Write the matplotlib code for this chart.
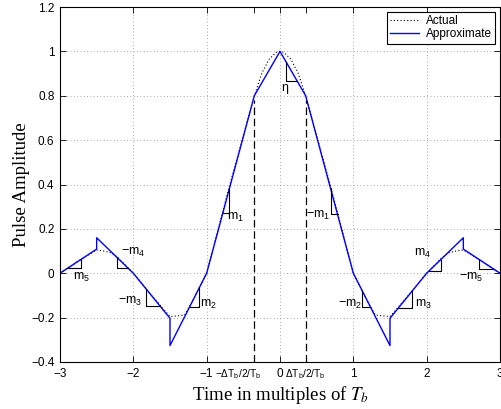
import matplotlib
matplotlib.use("Agg")
import matplotlib.pyplot as plt
import matplotlib.transforms as mtransforms
import numpy as np

# ---- data -------------------------------------------------------------
approx_t = [-3.0, -2.5, -2.5, -2.0, -1.5, -1.5, -1.0, -0.35, 0.0,
            0.35, 1.0, 1.5, 1.5, 2.0, 2.5, 2.5, 3.0]
approx_y = [0.0, 0.109, 0.16, 0.0, -0.203, -0.326, 0.0, 0.80, 1.0,
            0.80, 0.0, -0.326, -0.203, 0.0, 0.16, 0.109, 0.0]

actual_t = [-3.0, -2.75, -2.5, -2.4, -2.3, -2.2, -2.1, -2.0, -1.75, -1.5,
            -1.4, -1.3, -1.2, -1.0, -0.7, -0.5, -0.35, -0.25, -0.15, -0.05,
            0.0, 0.05, 0.15, 0.25, 0.35, 0.5, 0.7, 1.0, 1.2, 1.3, 1.4, 1.5,
            1.75, 2.0, 2.1, 2.2, 2.3, 2.4, 2.5, 2.75, 3.0]
actual_y = [0.0, 0.055, 0.105, 0.100, 0.092, 0.068, 0.034, 0.0, -0.10, -0.195,
            -0.192, -0.188, -0.13, 0.0, 0.38, 0.62, 0.80, 0.90, 0.964, 0.996,
            1.0, 0.996, 0.964, 0.90, 0.80, 0.62, 0.38, 0.0, -0.13, -0.188, -0.192, -0.195,
            -0.10, 0.0, 0.034, 0.068, 0.092, 0.100, 0.105, 0.055, 0.0]

half_width = 0.35   # Delta T_b / 2 / T_b

# slope triangles: (x of vertical leg, y where leg meets curve, y of horizontal leg, x end of horizontal leg)
tri_xv = [-2.714, -2.218, -1.827, -1.10, -0.692, 0.082, 0.69, 1.12, 1.805, 2.19, 2.72]
tri_yt = [0.062, 0.075, -0.069, -0.065, 0.379, 0.953, 0.38, -0.078, -0.078, 0.061, 0.061]
tri_yh = [0.022, 0.022, -0.146, -0.151, 0.27, 0.868, 0.265, -0.151, -0.158, 0.012, 0.018]
tri_xh = [-2.90, -2.068, -1.635, -1.232, -0.78, 0.231, 0.785, 1.232, 1.605, 2.03, 2.92]

lab_text = [r"m$_5$", r"$-$m$_4$", r"$-$m$_3$", r"m$_2$", r"m$_1$", "\u03b7",
            r"$-$m$_1$", r"$-$m$_2$", r"m$_3$", r"m$_4$", r"$-$m$_5$"]
lab_x = [-2.70, -2.00, -2.04, -0.98, -0.60, 0.07, 0.52, 0.96, 1.95, 1.94, 2.61]
lab_y = [-0.02, 0.092, -0.125, -0.14, 0.25, 0.835, 0.262, -0.14, -0.14, 0.088, -0.02]

yticks = [-0.4, -0.2, 0, 0.2, 0.4, 0.6, 0.8, 1, 1.2]
ytick_labels = ["\u22120.4", "\u22120.2", "0", "0.2", "0.4", "0.6", "0.8", "1", "1.2"]
xticks = [-3, -2, -1, 0, 1, 2, 3]
xtick_labels = ["\u22123", "\u22122", "\u22121", "0", "1", "2", "3"]
xticks_dt = [-half_width, half_width]
xtick_dt_labels = [r"$-\Delta$T$_{\rm b}$/2/T$_{\rm b}$", r"$\Delta$T$_{\rm b}$/2/T$_{\rm b}$"]

# ---- figure ------------------------------------------------------------
plt.rcParams["font.family"] = ["Liberation Sans", "DejaVu Sans"]
plt.rcParams["mathtext.fontset"] = "custom"
plt.rcParams["mathtext.rm"] = "Liberation Sans"
plt.rcParams["mathtext.it"] = "Liberation Sans:italic"

fig = plt.figure(figsize=(5.02, 4.09), dpi=100)
ax = fig.add_axes([60 / 502, 47 / 409, 440 / 502, 355 / 409])

ax.plot(actual_t, actual_y, color="black", linestyle=(0, (1, 2)), linewidth=0.8,
        label="Actual")
ax.plot(approx_t, approx_y, color="#0000ff", linewidth=1.0, label="Approximate")

for xd in xticks_dt:
    ax.plot([xd, xd], [-0.4, 0.78], color="black", linestyle=(0, (6, 3)), linewidth=0.9)

for xv, yt, yh, xh in zip(tri_xv, tri_yt, tri_yh, tri_xh):
    ax.plot([xv, xv, xh], [yt, yh, yh], color="black", linewidth=0.8)

for s, x, y in zip(lab_text, lab_x, lab_y):
    ax.text(x, y, s, fontsize=9, ha="center", va="center")

ax.set_xlim(-3, 3)
ax.set_ylim(-0.4, 1.2)
ax.set_xticks(xticks)
ax.set_xticklabels(xtick_labels)
ax.set_xticks(xticks_dt, minor=True)
ax.set_xticklabels(xtick_dt_labels, minor=True)
ax.set_yticks(yticks)
ax.set_yticklabels(ytick_labels)
ax.tick_params(axis="both", which="both", direction="in", top=True, right=True,
               length=4, width=0.6, labelsize=8.5, pad=4)
ax.tick_params(axis="x", which="minor", labelsize=7.3, pad=4)

# the left Delta-T label sits left of its tick in the reference
left_lab = ax.get_xticklabels(minor=True)[0]
left_lab.set_transform(left_lab.get_transform()
                       + mtransforms.ScaledTranslation(-16 / 100, 0, fig.dpi_scale_trans))

ax.grid(True, which="major", color="0.55", linestyle=(0, (1, 3)), linewidth=0.6)
for sp in ax.spines.values():
    sp.set_linewidth(0.8)

ax.set_xlabel(r"Time in multiples of $T_b$", fontsize=13.5, family="Liberation Serif",
              math_fontfamily="stix", labelpad=2)
ax.set_ylabel("Pulse Amplitude", fontsize=13.5, family="Liberation Serif", labelpad=1)

leg = ax.legend(loc="upper right", fontsize=8.5, fancybox=False, framealpha=1,
                edgecolor="black", handlelength=2.4, borderaxespad=0.4,
                borderpad=0.3, labelspacing=0.1, handletextpad=0.6)
leg.get_frame().set_linewidth(0.8)

fig.savefig("out.png", dpi=100)
